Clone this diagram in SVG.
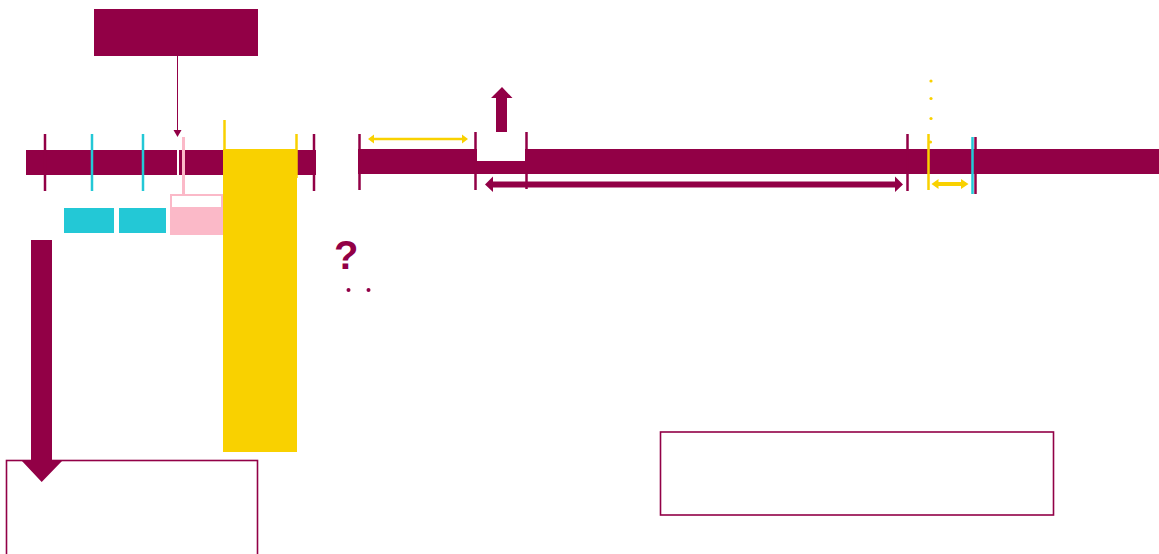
<svg xmlns="http://www.w3.org/2000/svg" width="1159" height="554" viewBox="0 0 1159 554">
<style>
.m{fill:#920046}
.c{fill:#23C8D6}
.y{fill:#F9D100}
.p{fill:#FBB9C8}
.tm{stroke:#920046;stroke-width:2.5}
.tc{stroke:#23C8D6;stroke-width:2.5}
.ty{stroke:#F9D100;stroke-width:2.5}
.box{fill:#fff;stroke:#920046;stroke-width:1.6}
.q{font-family:"Liberation Sans",Arial,sans-serif;font-size:40px;font-weight:bold;fill:#920046}
</style>
<rect width="1159" height="554" fill="#fff"/>
<g id="title-box"><rect class="m" x="94" y="9" width="164" height="47"/></g>
<g id="genome-bar">
<rect class="m" x="26" y="150" width="290" height="25"/>
<rect fill="#fff" x="177" y="150" width="2" height="25"/>
<rect class="m" x="358" y="149" width="119" height="25"/>
<rect class="m" x="477" y="161" width="48" height="13"/>
<rect class="m" x="525" y="149" width="634" height="25"/>
</g>
<g id="ticks">
<line class="tm" x1="45" y1="134" x2="45" y2="191"/>
<line class="tc" x1="92" y1="134" x2="92" y2="191"/>
<line class="tc" x1="143" y1="134" x2="143" y2="191"/>
<line x1="183.5" y1="137" x2="183.5" y2="194" stroke="#FBB9C8" stroke-width="3"/>
<line class="ty" x1="224.5" y1="120" x2="224.5" y2="150"/>
<line class="ty" x1="296.5" y1="134" x2="296.5" y2="178"/>
<line class="tm" x1="314" y1="134" x2="314" y2="191"/>
<line class="tm" x1="359.5" y1="134" x2="359.5" y2="190"/>
<line class="tm" x1="475.5" y1="132" x2="475.5" y2="190"/>
<line class="tm" x1="526.5" y1="132" x2="526.5" y2="189"/>
<line class="tm" x1="907.5" y1="134" x2="907.5" y2="191"/>
<line class="ty" x1="928.5" y1="134" x2="928.5" y2="190"/>
<line class="tc" x1="972.5" y1="137" x2="972.5" y2="194"/>
<line class="tm" x1="975.5" y1="137" x2="975.5" y2="194"/>
</g>
<g id="yellow-dots" class="y">
<circle cx="931" cy="81" r="1.6"/>
<circle cx="931" cy="98.5" r="1.6"/>
<circle cx="931" cy="118.5" r="1.6"/>
<circle cx="930.5" cy="142" r="1.6"/>
</g>
<g id="cyan-boxes">
<rect class="c" x="64" y="208" width="50" height="25"/>
<rect class="c" x="119" y="208" width="47" height="25"/>
</g>
<g id="pink-box">
<rect x="171" y="195" width="51" height="39" fill="#fff" stroke="#FBB9C8" stroke-width="2"/>
<rect class="p" x="170" y="207" width="53" height="28"/>
</g>
<g id="yellow-column"><rect class="y" x="223" y="149" width="74" height="303"/></g>
<g id="question">
<text class="q" x="334" y="269">?</text>
<circle class="m" cx="348.5" cy="290" r="2"/>
<circle class="m" cx="368.5" cy="290" r="2"/>
</g>
<g id="bottom-left-box"><rect class="box" x="6.5" y="460.5" width="251" height="100"/></g>
<g id="bottom-right-box"><rect class="box" x="660.5" y="432" width="393" height="83"/></g>
<g id="connectors">
<line x1="177.5" y1="56" x2="177.5" y2="131" stroke="#920046" stroke-width="1"/>
<polygon class="m" points="173.5,130 181.5,130 177.5,137"/>
<polygon class="m" points="31,240 52,240 52,460 63,460 41.7,482 21,460 31,460"/>
<polygon class="m" points="496,132 507,132 507,98 512.5,98 502,87 491,98 496,98"/>
<polygon class="m" points="485,184.5 493,176.5 493,181.5 895,181.5 895,176.5 903,184.5 895,192 895,187.5 493,187.5 493,192"/>
<polygon class="y" points="368,139 374,134.5 374,137.8 462,137.8 462,134.5 468,139 462,143.5 462,140.2 374,140.2 374,143.5"/>
<polygon class="y" points="931.5,184 938.5,179 938.5,182 961,182 961,179 968.5,184 961,189 961,186 938.5,186 938.5,189"/>
</g>
</svg>
